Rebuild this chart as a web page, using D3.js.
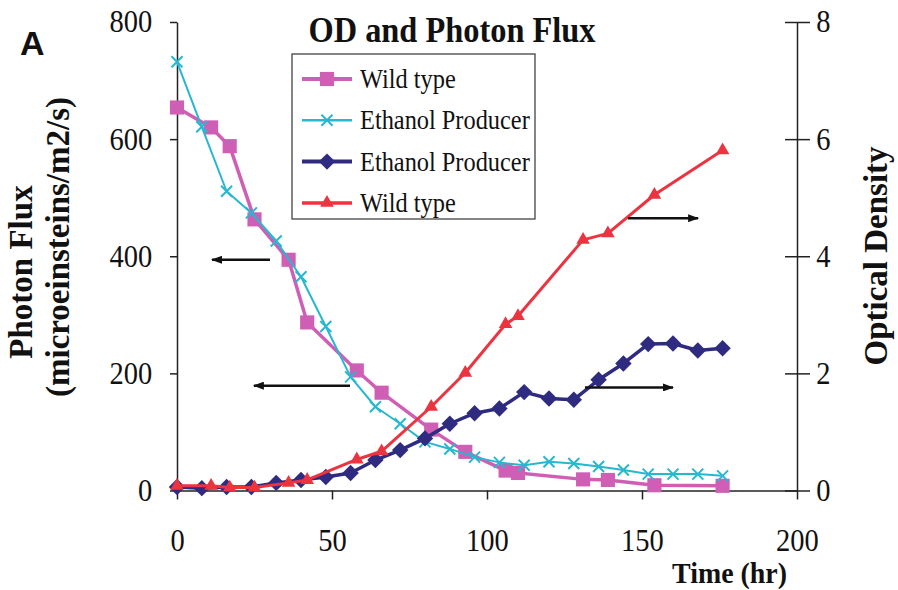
<!DOCTYPE html>
<html>
<head>
<meta charset="utf-8">
<script src="https://cdn.jsdelivr.net/npm/d3@7"></script>
<style>
  html, body { margin: 0; padding: 0; background: #fff; }
  svg { display: block; }
  text { font-family: 'Liberation Serif', 'Times New Roman', serif; fill: #111; }
</style>
</head>
<body>
<div id="chart"></div>
<script>
// values
const wildTimes = [0, 11, 17, 25, 36, 42, 58, 66, 82, 93, 106, 110, 131, 139, 154, 176]
const wildFlux = [654, 620, 588, 463, 394, 287, 205, 167, 104, 66, 34, 30, 19, 18, 9, 8]
const wildOD = [0.08, 0.08, 0.05, 0.05, 0.13, 0.18, 0.53, 0.67, 1.43, 2.01, 2.84, 2.98, 4.28, 4.39, 5.05, 5.81]

const producerTimes = [0, 8, 16, 24, 32, 40, 48, 56, 64, 72, 80, 88, 96, 104, 112, 120, 128, 136, 144, 152, 160, 168, 176]
const producerFlux = [732, 621, 511, 474, 426, 365, 280, 194, 143, 114, 83, 71, 57, 48, 43, 49, 46, 41, 35, 28, 28, 28, 25]
const producerOD = [0.06, 0.04, 0.06, 0.06, 0.13, 0.18, 0.23, 0.30, 0.52, 0.69, 0.89, 1.14, 1.32, 1.40, 1.68, 1.57, 1.55, 1.89, 2.17, 2.50, 2.51, 2.39, 2.43]

const timeTicks = [0, 50, 100, 150, 200]
const fluxTicks = [0, 200, 400, 600, 800]
const odTicks = [0, 2, 4, 6, 8]

const legendLabels = ['Wild type', 'Ethanol Producer', 'Ethanol Producer', 'Wild type']

// arrows point from a curve to the axis it is read on
const arrowFrom = [30, 55.8, 145.5, 131.6]
const arrowTo = [11.3, 24.8, 168.1, 160]
const arrowLevel = [394, 179, 4.65, 1.76]
const arrowAxis = ['flux', 'flux', 'od', 'od']

const width = 898
const height = 590

let svg = null
let x = null
let yFlux = null
let yOD = null

const series = [
  { name: legendLabels[0], times: wildTimes, values: wildFlux, axis: 'flux', color: '#cf5fb5', lineWidth: 3.5, marker: 'square' },
  { name: legendLabels[1], times: producerTimes, values: producerFlux, axis: 'flux', color: '#27b8d0', lineWidth: 2, marker: 'cross' },
  { name: legendLabels[2], times: producerTimes, values: producerOD, axis: 'od', color: '#2f2b80', lineWidth: 3.5, marker: 'diamond' },
  { name: legendLabels[3], times: wildTimes, values: wildOD, axis: 'od', color: '#ee3340', lineWidth: 3, marker: 'triangle' }
]

const yFor = axis => (axis === 'flux' ? yFlux : yOD)

const drawMarker = (sel, type, color) => {
  if (type === 'square') {
    sel.append('path').attr('d', d3.symbol().type(d3.symbolSquare).size(200)()).attr('fill', color)
  } else if (type === 'diamond') {
    sel.append('path').attr('d', d3.symbol().type(d3.symbolSquare).size(135)())
      .attr('transform', 'rotate(45)').attr('fill', color)
  } else if (type === 'triangle') {
    sel.append('path').attr('d', d3.symbol().type(d3.symbolTriangle).size(80)()).attr('fill', color)
  } else {
    sel.append('path').attr('d', 'M-5.5,-5.5L5.5,5.5M5.5,-5.5L-5.5,5.5')
      .attr('fill', 'none').attr('stroke', color).attr('stroke-width', 2)
  }
}

const createSVG = () => {
  svg = d3.select('#chart')
    .append('svg')
    .attr('width', width)
    .attr('height', height)
    .attr('viewBox', `0 0 ${width} ${height}`)

  x = d3.scaleLinear().domain([0, 200]).range([177, 797])
  yFlux = d3.scaleLinear().domain([0, 800]).range([490.5, 22])
  yOD = d3.scaleLinear().domain([0, 8]).range([490.5, 22])

  svg.append('defs')
    .append('marker')
    .attr('id', 'arrowhead')
    .attr('markerUnits', 'userSpaceOnUse')
    .attr('viewBox', '0 0 11 8')
    .attr('markerWidth', 11)
    .attr('markerHeight', 8)
    .attr('refX', 10)
    .attr('refY', 4)
    .attr('orient', 'auto')
    .append('path')
    .attr('d', 'M0,0L11,4L0,8Z')
    .attr('fill', '#111')
}

const styleAxis = (g, size, sx) => {
  g.select('.domain').attr('stroke', '#222').attr('stroke-width', 1.5)
  g.selectAll('.tick line').attr('stroke', '#222').attr('stroke-width', 1.5)
  g.selectAll('.tick text')
    .attr('font-size', size)
    .attr('fill', '#111')
    .attr('transform', `scale(${sx},1)`)
}

const createAxes = () => {
  const left = svg.append('g')
    .attr('transform', 'translate(177,0)')
    .call(d3.axisLeft(yFlux).tickValues(fluxTicks).tickSizeInner(7).tickSizeOuter(0).tickPadding(20))
  styleAxis(left, 31, 0.92)

  const bottom = svg.append('g')
    .attr('transform', 'translate(0,490.5)')
    .call(d3.axisBottom(x).tickValues(timeTicks).tickSizeInner(9).tickSizeOuter(0).tickPadding(30))
  styleAxis(bottom, 31, 0.92)

  const right = svg.append('g')
    .attr('transform', 'translate(797,0)')
    .call(d3.axisRight(yOD).tickValues(odTicks).tickSizeInner(13).tickSizeOuter(0).tickPadding(8))
  styleAxis(right, 31, 0.92)
  // right ticks cross the axis
  right.selectAll('.tick')
    .append('line')
    .attr('x1', -12)
    .attr('x2', 0)
    .attr('stroke', '#222')
    .attr('stroke-width', 1.5)
}

const createSeries = () => {
  series.forEach(s => {
    const y = yFor(s.axis)
    const points = d3.zip(s.times, s.values)
    const g = svg.append('g').attr('class', 'series')

    g.append('path')
      .datum(points)
      .attr('fill', 'none')
      .attr('stroke', s.color)
      .attr('stroke-width', s.lineWidth)
      .attr('stroke-linejoin', 'round')
      .attr('d', d3.line().x(d => x(d[0])).y(d => y(d[1])))

    g.selectAll('g.pt')
      .data(points)
      .enter()
      .append('g')
      .attr('class', 'pt')
      .attr('transform', d => `translate(${x(d[0])},${y(d[1])})`)
      .each(function () { drawMarker(d3.select(this), s.marker, s.color) })
  })
}

const createArrows = () => {
  svg.append('g')
    .attr('class', 'arrows')
    .selectAll('line')
    .data(d3.range(arrowFrom.length))
    .enter()
    .append('line')
    .attr('x1', i => x(arrowFrom[i]))
    .attr('x2', i => x(arrowTo[i]))
    .attr('y1', i => yFor(arrowAxis[i])(arrowLevel[i]))
    .attr('y2', i => yFor(arrowAxis[i])(arrowLevel[i]))
    .attr('stroke', '#111')
    .attr('stroke-width', 2.5)
    .attr('marker-end', 'url(#arrowhead)')
}

const createLegend = () => {
  const legend = svg.append('g').attr('class', 'legend')

  legend.append('rect')
    .attr('x', 292)
    .attr('y', 54)
    .attr('width', 243)
    .attr('height', 165)
    .attr('fill', '#fff')
    .attr('stroke', '#444')
    .attr('stroke-width', 1.3)

  const rows = legend.selectAll('g.row')
    .data(series)
    .enter()
    .append('g')
    .attr('class', 'row')
    .attr('transform', (d, i) => `translate(0,${79 + i * 41.3})`)

  rows.append('line')
    .attr('x1', 302)
    .attr('x2', 352)
    .attr('stroke', d => d.color)
    .attr('stroke-width', d => d.lineWidth + 0.5)

  rows.append('g')
    .attr('transform', 'translate(327,0)')
    .each(function (d) { drawMarker(d3.select(this), d.marker, d.color) })

  rows.append('text')
    .attr('transform', 'translate(360,9) scale(0.87,1)')
    .attr('font-size', 28)
    .text(d => d.name)
}

const createTitles = () => {
  svg.append('text')
    .attr('transform', 'translate(452,42) scale(0.9,1)')
    .attr('text-anchor', 'middle')
    .attr('font-size', 36)
    .attr('font-weight', 'bold')
    .text('OD and Photon Flux')

  // panel letter is set in a sans face
  svg.append('text')
    .attr('x', 20)
    .attr('y', 55)
    .style('font-family', "'Liberation Sans', Arial, sans-serif")
    .attr('font-size', 34)
    .attr('font-weight', 'bold')
    .text('A')

  svg.append('text')
    .attr('transform', 'translate(32,272) rotate(-90)')
    .attr('text-anchor', 'middle')
    .attr('font-size', 33)
    .attr('font-weight', 'bold')
    .text('Photon Flux')

  svg.append('text')
    .attr('transform', 'translate(69,247) rotate(-90)')
    .attr('text-anchor', 'middle')
    .attr('font-size', 33)
    .attr('font-weight', 'bold')
    .text('(microeinsteins/m2/s)')

  svg.append('text')
    .attr('transform', 'translate(887,256) rotate(-90)')
    .attr('text-anchor', 'middle')
    .attr('font-size', 33)
    .attr('font-weight', 'bold')
    .text('Optical Density')

  svg.append('text')
    .attr('transform', 'translate(787,583) scale(0.93,1)')
    .attr('text-anchor', 'end')
    .attr('font-size', 30)
    .attr('font-weight', 'bold')
    .text('Time (hr)')
}

const init = () => {
  createSVG()
  createAxes()
  createSeries()
  createArrows()
  createLegend()
  createTitles()
}

init()
</script>
</body>
</html>
